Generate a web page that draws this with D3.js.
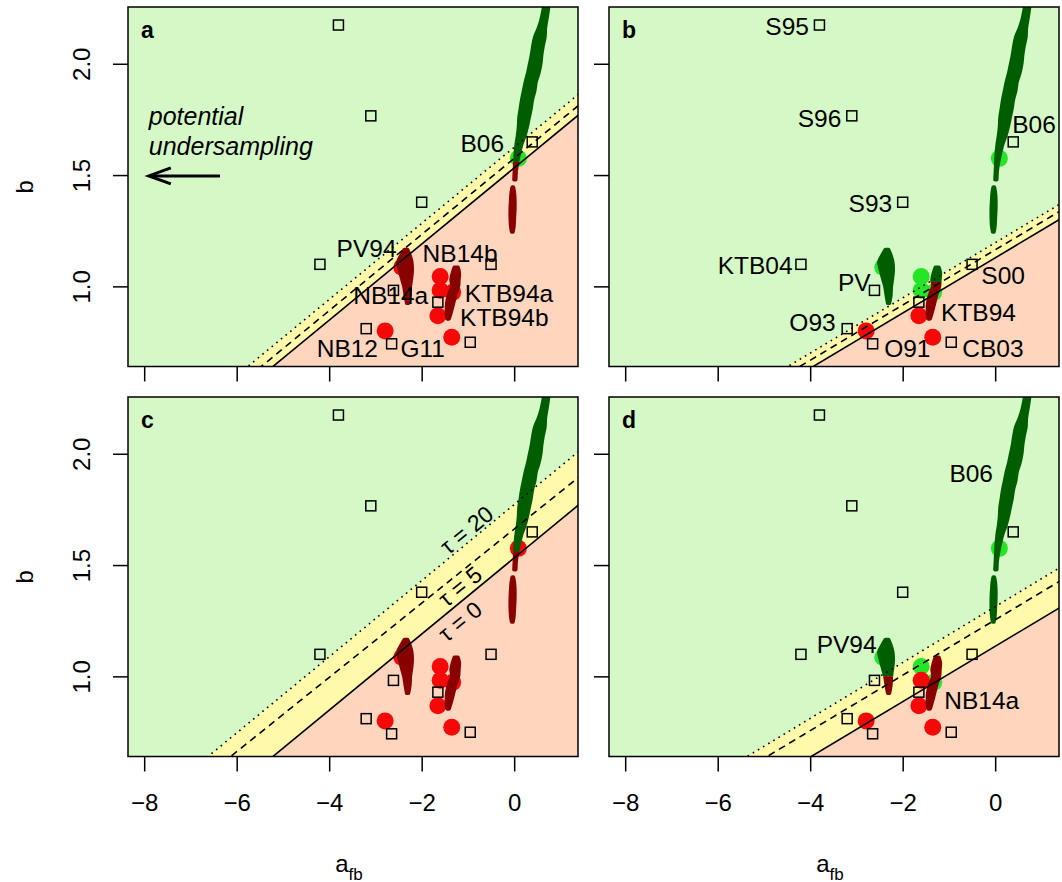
<!DOCTYPE html>
<html>
<head>
<meta charset="utf-8">
<script src="https://cdn.jsdelivr.net/npm/d3@7"></script>
<style>
  body { margin: 0; background: #fff; }
  svg { display: block; }
  text { font-family: "Liberation Sans", Arial, Helvetica, sans-serif; }
</style>
</head>
<body>
<div id="chart"></div>
<script>
// ---- data ----
const panelIds = ["a", "b", "c", "d"];
const xTicks = [-8, -6, -4, -2, 0];
const yTicks = [1.0, 1.5, 2.0];
const xDomain = [-8.35, 1.38];
const yDomain = [0.64, 2.255];

// published estimates (open squares), same in every panel
const squareA = [-3.80, -3.10, -2.00, -4.20, -2.61, -1.65, -3.20, -2.65, -0.95, -0.50, 0.39];
const squareB = [2.174, 1.766, 1.378, 1.099, 0.982, 0.929, 0.810, 0.742, 0.749, 1.099, 1.649];

// best fits (big dots); 1 = consistent (green), 0 = not (red)
const circleA = [0.09, -2.43, -1.60, -1.60, -1.33, -1.65, -2.79, -1.35];
const circleB = [1.575, 1.086, 1.044, 0.983, 0.973, 0.868, 0.800, 0.771];
const circleOk = {
  a: [1, 0, 0, 0, 0, 0, 0, 0],
  b: [1, 1, 1, 1, 1, 0, 0, 0],
  c: [0, 0, 0, 0, 0, 0, 0, 0],
  d: [1, 1, 1, 0, 1, 0, 0, 0]
};

// boundary lines b = icpt + slope * a, order tau = 0 (solid), 5 (dashed), 20 (dotted)
const lineSlope = [[0.171, 0.171, 0.171], [0.124, 0.124, 0.124], [0.171, 0.1667, 0.171], [0.1244, 0.1245, 0.1255]];
const lineIcpt = [[1.532, 1.575, 1.625], [1.128, 1.164, 1.196], [1.532, 1.662, 1.772], [1.135, 1.254, 1.313]];

// posterior sample clouds, outlines as [b, aLeft, aRight]
const cloudB06Upper = [[1.48, 0.00, 0.03], [1.52, 0.01, 0.04], [1.56, 0.02, 0.07], [1.60, 0.03, 0.11], [1.64, 0.05, 0.16],
  [1.68, 0.08, 0.23], [1.72, 0.10, 0.28], [1.76, 0.11, 0.32], [1.80, 0.14, 0.36], [1.84, 0.17, 0.39], [1.88, 0.21, 0.44],
  [1.92, 0.25, 0.47], [1.96, 0.30, 0.53], [2.00, 0.34, 0.57], [2.04, 0.38, 0.59], [2.08, 0.41, 0.62], [2.12, 0.45, 0.66],
  [2.16, 0.53, 0.67], [2.20, 0.59, 0.70], [2.24, 0.63, 0.73], [2.30, 0.68, 0.76]];
const cloudB06Lower = [[1.245, -0.05, -0.03], [1.27, -0.07, -0.01], [1.31, -0.08, 0.00], [1.35, -0.08, 0.01],
  [1.39, -0.07, 0.01], [1.42, -0.06, 0.00], [1.445, -0.04, -0.02]];
const cloudPV = [[0.925, -2.32, -2.29], [0.96, -2.35, -2.26], [1.00, -2.38, -2.25], [1.03, -2.42, -2.23],
  [1.07, -2.47, -2.21], [1.11, -2.51, -2.22], [1.14, -2.44, -2.26], [1.165, -2.37, -2.31]];
const cloudKTB = [[0.855, -1.45, -1.41], [0.89, -1.46, -1.36], [0.93, -1.45, -1.31], [0.97, -1.40, -1.26],
  [1.00, -1.34, -1.21], [1.03, -1.36, -1.20], [1.06, -1.33, -1.19], [1.085, -1.29, -1.22]];
const clouds = [cloudB06Upper, cloudB06Lower, cloudPV, cloudKTB];
// samples below this b are drawn dark red, above dark green
const cloudSplit = {
  a: [1.56, 3, 3, 3],
  b: [0, 0, 0, 1.02],
  c: [1.56, 3, 3, 3],
  d: [0, 0, 1.0, 3]
};

// text labels: panel, text, a (left edge), b (baseline)
const pointLabels = [
  ["a", "B06", -1.16, 1.603], ["a", "PV94", -3.84, 1.130], ["a", "NB14b", -1.98, 1.108], ["a", "NB14a", -3.48, 0.921],
  ["a", "KTB94a", -1.07, 0.928], ["a", "KTB94b", -1.17, 0.823], ["a", "NB12", -4.27, 0.681], ["a", "G11", -2.46, 0.681],
  ["b", "S95", -4.97, 2.127], ["b", "S96", -4.27, 1.718], ["b", "B06", 0.37, 1.688], ["b", "S93", -3.17, 1.333],
  ["b", "KTB04", -6.00, 1.056], ["b", "PV", -3.40, 0.981], ["b", "S00", -0.30, 1.011], ["b", "KTB94", -1.17, 0.843],
  ["b", "O93", -4.45, 0.798], ["b", "O91", -2.40, 0.681], ["b", "CB03", -0.71, 0.681],
  ["d", "B06", -0.99, 1.875], ["d", "PV94", -3.86, 1.105], ["d", "NB14a", -1.10, 0.854]
];
const tauText = ["\u03c4 = 0", "\u03c4 = 5", "\u03c4 = 20"];
const tauA = [-1.17, -1.17, -1.03];
const tauB = [1.247, 1.404, 1.658];

// ---- drawing ----
const width = 1062, height = 882;
const panelLeft = [128, 609, 128, 609];
const panelTop = [7, 7, 397, 397];
const pw = 450, ph = 359.5;

const colGreenBg = "#d5f9c6", colYellow = "#fff9aa", colSalmon = "#fdd6bd";
const colOk = "#26e526", colBad = "#f50808", colDarkGreen = "#005e00", colDarkRed = "#880000";

const svg = d3.select("#chart").append("svg")
  .attr("width", width)
  .attr("height", height);
const defs = svg.append("defs");

const fmtX = d => d < 0 ? "\u2212" + Math.abs(d) : String(d);
const fmtY = d3.format(".1f");

panelIds.forEach((id, i) => {
  const L = panelLeft[i], T = panelTop[i];
  const x = d3.scaleLinear().domain(xDomain).range([L, L + pw]);
  const y = d3.scaleLinear().domain(yDomain).range([T + ph, T]);
  const lineAt = (k, a) => lineIcpt[i][k] + lineSlope[i][k] * a;
  const xa = xDomain[0] - 1, xb = xDomain[1] + 1;

  defs.append("clipPath").attr("id", "clip-" + id)
    .append("rect").attr("x", L).attr("y", T).attr("width", pw).attr("height", ph);

  const plot = svg.append("g").attr("clip-path", `url(#clip-${id})`);

  // regions
  plot.append("rect").attr("x", L).attr("y", T).attr("width", pw).attr("height", ph).attr("fill", colGreenBg);
  const poly = d3.line().x(d => x(d[0])).y(d => y(d[1]));
  plot.append("path")
    .attr("d", poly([[xa, lineAt(2, xa)], [xb, lineAt(2, xb)], [xb, lineAt(0, xb)], [xa, lineAt(0, xa)]]) + "Z")
    .attr("fill", colYellow);
  plot.append("path")
    .attr("d", poly([[xa, lineAt(0, xa)], [xb, lineAt(0, xb)], [xb, yDomain[0] - 1], [xa, yDomain[0] - 1]]) + "Z")
    .attr("fill", colSalmon);

  // best-fit dots (green first, red on top)
  const order = d3.range(circleA.length).sort((p, q) => circleOk[id][q] - circleOk[id][p]);
  plot.selectAll("circle.fit").data(order).join("circle")
    .attr("class", "fit")
    .attr("cx", k => x(circleA[k]))
    .attr("cy", k => y(circleB[k]))
    .attr("r", 8.5)
    .attr("fill", k => circleOk[id][k] ? colOk : colBad);

  // sample clouds
  const area = d3.area()
    .y(d => y(d[0]))
    .x0(d => x(d[1]))
    .x1(d => x(d[2]))
    .curve(d3.curveCatmullRom);
  clouds.forEach((cl, c) => {
    const split = Math.max(T, Math.min(T + ph, y(cloudSplit[id][c])));
    const upId = `cu-${id}-${c}`, loId = `cl-${id}-${c}`;
    defs.append("clipPath").attr("id", upId)
      .append("rect").attr("x", L).attr("y", T).attr("width", pw).attr("height", split - T);
    defs.append("clipPath").attr("id", loId)
      .append("rect").attr("x", L).attr("y", split).attr("width", pw).attr("height", T + ph - split);
    [[upId, colDarkGreen], [loId, colDarkRed]].forEach(([cid, col]) => {
      plot.append("g").attr("clip-path", `url(#${cid})`)
        .append("path")
        .attr("d", area(cl))
        .attr("fill", col)
        .attr("stroke", col)
        .attr("stroke-width", 4)
        .attr("stroke-linejoin", "round");
    });
  });

  // boundary lines
  const dashes = [null, "7,5", "1.6,4.4"];
  [0, 1, 2].forEach(k => {
    plot.append("line")
      .attr("x1", x(xa)).attr("y1", y(lineAt(k, xa)))
      .attr("x2", x(xb)).attr("y2", y(lineAt(k, xb)))
      .attr("stroke", "#000")
      .attr("stroke-width", 1.6)
      .attr("stroke-dasharray", dashes[k]);
  });

  // published estimates
  plot.selectAll("rect.est").data(squareA).join("rect")
    .attr("class", "est")
    .attr("x", (d, k) => x(d) - 5)
    .attr("y", (d, k) => y(squareB[k]) - 5)
    .attr("width", 10).attr("height", 10)
    .attr("fill", "none")
    .attr("stroke", "#000")
    .attr("stroke-width", 1.5);

  // point labels
  svg.append("g").selectAll("text")
    .data(pointLabels.filter(d => d[0] === id))
    .join("text")
    .attr("x", d => x(d[2]))
    .attr("y", d => y(d[3]))
    .attr("font-size", 24.5)
    .attr("fill", "#000")
    .text(d => d[1]);

  if (id === "a") {
    svg.append("text").attr("x", x(-7.90)).attr("y", y(1.724))
      .attr("font-size", 25).attr("font-style", "italic").text("potential");
    svg.append("text").attr("x", x(-7.90)).attr("y", y(1.589))
      .attr("font-size", 25).attr("font-style", "italic").text("undersampling");
    const ay = y(1.496), ax0 = x(-6.36), ax1 = x(-7.90);
    svg.append("line").attr("x1", ax0).attr("y1", ay).attr("x2", ax1 + 4).attr("y2", ay)
      .attr("stroke", "#000").attr("stroke-width", 3);
    svg.append("path")
      .attr("d", `M${ax1 + 22},${ay - 8}L${ax1},${ay}L${ax1 + 22},${ay + 8}`)
      .attr("fill", "none").attr("stroke", "#000").attr("stroke-width", 3);
  }

  if (id === "c") {
    const ang = -Math.atan((y(0) - y(lineSlope[i][0])) / (x(1) - x(0))) * 180 / Math.PI;
    tauText.forEach((t, k) => {
      svg.append("text")
        .attr("transform", `translate(${x(tauA[k])},${y(tauB[k])}) rotate(${ang})`)
        .attr("text-anchor", "middle")
        .attr("dy", "0.35em")
        .attr("font-size", 23)
        .text(t);
    });
  }

  // box
  svg.append("rect").attr("x", L).attr("y", T).attr("width", pw).attr("height", ph)
    .attr("fill", "none").attr("stroke", "#000").attr("stroke-width", 1.5);

  // panel letter
  svg.append("text").attr("x", L + 13).attr("y", T + 31)
    .attr("font-size", 23).attr("font-weight", "bold").text(id);

  // axes
  const bottomRow = i >= 2, leftCol = i % 2 === 0;
  const gx = svg.append("g").attr("transform", `translate(0,${T + ph})`)
    .call(d3.axisBottom(x).tickValues(xTicks).tickSize(15).tickPadding(22)
      .tickFormat(bottomRow ? fmtX : () => ""));
  gx.select(".domain").remove();
  gx.selectAll("line").attr("stroke-width", 1.5);
  gx.selectAll("text").attr("font-size", 24).attr("font-family", "Liberation Sans, Arial, sans-serif");

  const gy = svg.append("g").attr("transform", `translate(${L},0)`)
    .call(d3.axisLeft(y).tickValues(yTicks).tickSize(15)
      .tickFormat(leftCol ? fmtY : () => ""));
  gy.select(".domain").remove();
  gy.selectAll("line").attr("stroke-width", 1.5);
  gy.selectAll("text")
    .attr("transform", "rotate(-90)")
    .attr("x", 0).attr("y", -38.5).attr("dy", 0)
    .attr("text-anchor", "middle")
    .attr("font-size", 24).attr("font-family", "Liberation Sans, Arial, sans-serif");

  if (leftCol) {
    svg.append("text")
      .attr("transform", `translate(33,${T + ph / 2}) rotate(-90)`)
      .attr("text-anchor", "middle")
      .attr("font-size", 24).text("b");
  }
  if (bottomRow) {
    const t = svg.append("text")
      .attr("x", L + pw / 2 - 4).attr("y", 871.5)
      .attr("text-anchor", "middle")
      .attr("font-size", 24);
    t.append("tspan").text("a");
    t.append("tspan").attr("font-size", 17).attr("dy", 8).text("fb");
  }
});
</script>
</body>
</html>
